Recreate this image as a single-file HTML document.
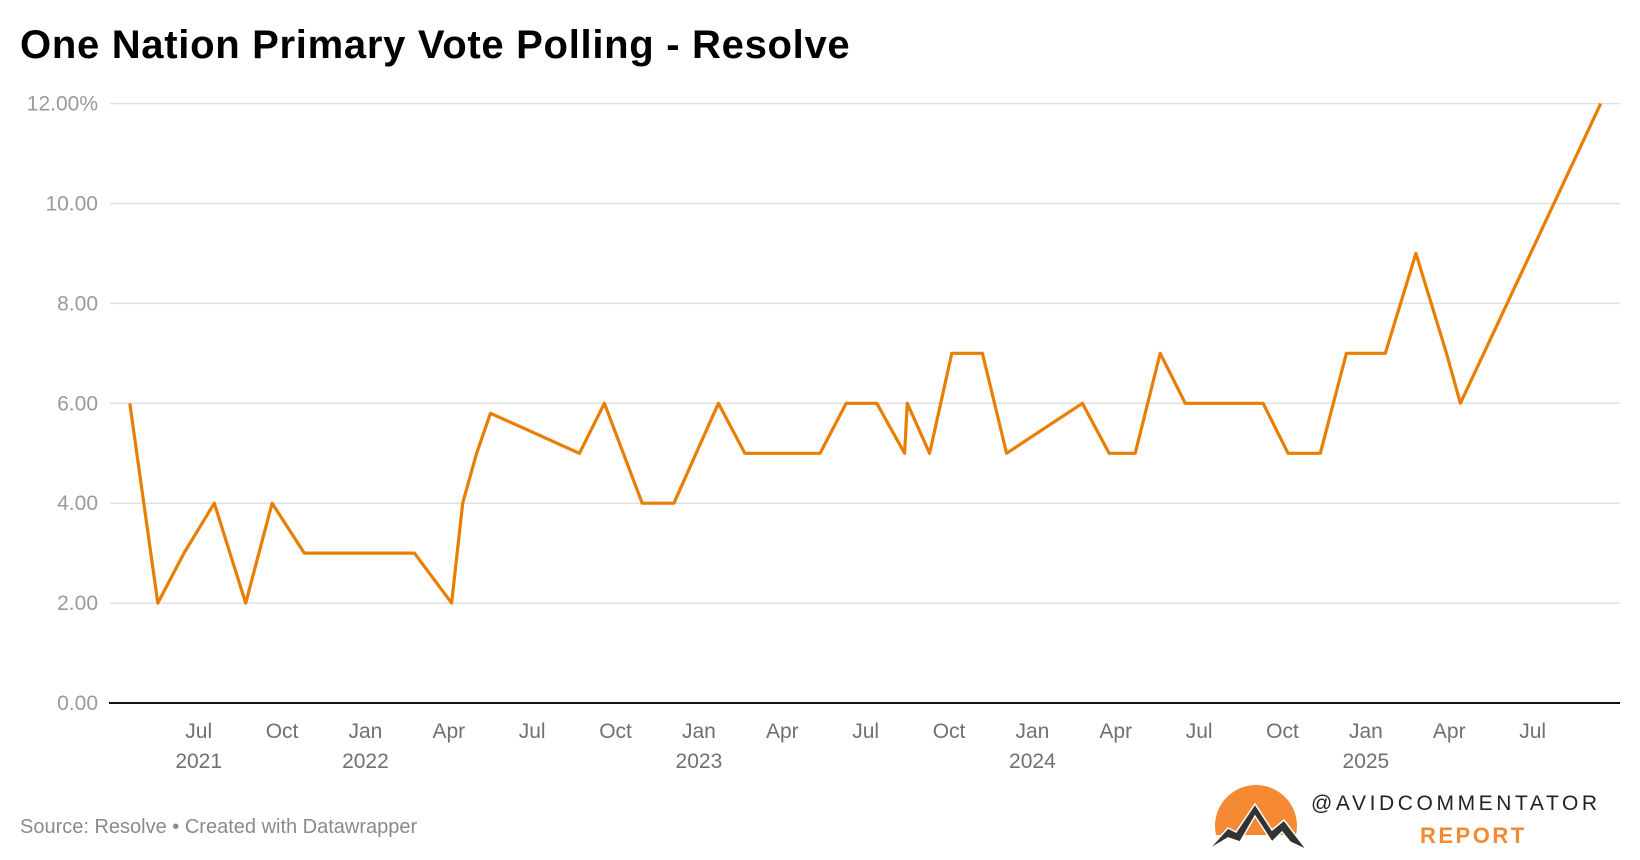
<!DOCTYPE html>
<html><head><meta charset="utf-8"><style>
html,body{margin:0;padding:0;background:#fff;width:1640px;height:860px;overflow:hidden;font-family:"Liberation Sans",sans-serif}
</style></head><body>
<svg width="1640" height="860" xmlns="http://www.w3.org/2000/svg">
<text x="20" y="58" font-size="40" font-weight="bold" letter-spacing="0.7" fill="#000">One Nation Primary Vote Polling - Resolve</text>
<g id="grid"></g><g id="xaxis"></g>
<path id="line" fill="none" stroke="#e87e04" stroke-width="3.2" stroke-linejoin="round"/>
<text x="20" y="833" font-size="20" fill="#8a8a8a">Source: Resolve • Created with Datawrapper</text>
<g>
<path d="M1216,835 A41,41 0 1 1 1296,835 Z" fill="#f58a33"/>
<path d="M1208,850 L1228,828 L1236,832 L1255,804 L1272,830 L1284,820 L1307,850 L1290,842 L1282,832 L1272,842 L1255,816 L1240,842 L1228,838 Z" fill="#333" stroke="#fff" stroke-width="1.5"/>
<text x="1311" y="810" font-size="21" letter-spacing="3.6" fill="#222">@AVIDCOMMENTATOR</text>
<text x="1420" y="843" font-size="22" font-weight="bold" letter-spacing="2.5" fill="#f58a33">REPORT</text>
</g>
</svg>
<script>
// months since Jul 2021
const monthIndex=[-2.48,-1.47,-0.53,0.56,1.69,2.64,3.8,7.76,9.1,9.5,10.0,10.5,13.7,14.6,15.96,17.1,18.7,19.65,22.36,23.3,24.4,25.4,25.5,26.3,27.1,28.2,29.07,31.8,32.76,33.7,34.6,35.5,38.3,39.2,40.36,41.3,42.7,43.8,44.9,45.4,50.45];
const values=[6,2,3,4,2,4,3,3,2,4,5,5.8,5,6,4,4,6,5,5,6,6,5,6,5,7,7,5,6,5,5,7,6,6,5,5,7,7,9,7,6,12];
const yTicks=[0,2,4,6,8,10,12];
const yTickLabels=["0.00","2.00","4.00","6.00","8.00","10.00","12.00%"];
const xTickMonths=[0,3,6,9,12,15,18,21,24,27,30,33,36,39,42,45,48];
const xTickLabels=["Jul","Oct","Jan","Apr","Jul","Oct","Jan","Apr","Jul","Oct","Jan","Apr","Jul","Oct","Jan","Apr","Jul"];
const yearLabels=["2021","","2022","","","","2023","","","","2024","","","","2025","",""];
const NS="http://www.w3.org/2000/svg";
const X=m=>198.7+m*27.79;
const Y=v=>703-v*49.95;
const grid=document.getElementById('grid');
yTicks.forEach((t,i)=>{
  if(t>0){const l=document.createElementNS(NS,'line');
  l.setAttribute('x1',110);l.setAttribute('x2',1620);l.setAttribute('y1',Y(t));l.setAttribute('y2',Y(t));
  l.setAttribute('stroke','#e0e0e0');l.setAttribute('stroke-width','1.5');
  
  
  grid.appendChild(l);}
  const tx=document.createElementNS(NS,'text');
  tx.setAttribute('x',98);tx.setAttribute('y',Y(t)+7);tx.setAttribute('text-anchor','end');
  tx.setAttribute('font-size','21');tx.setAttribute('fill','#9a9a9a');tx.textContent=yTickLabels[i];
  
  
  grid.appendChild(tx);
});
const ax=document.createElementNS(NS,'line');
ax.setAttribute('x1',109);ax.setAttribute('x2',1620);ax.setAttribute('y1',703);ax.setAttribute('y2',703);
ax.setAttribute('stroke','#111');ax.setAttribute('stroke-width','2');


grid.appendChild(ax);
const xa=document.getElementById('xaxis');
xTickMonths.forEach((m,i)=>{
  const t=document.createElementNS(NS,'text');
  t.setAttribute('x',X(m));t.setAttribute('y',738);t.setAttribute('text-anchor','middle');
  t.setAttribute('font-size','21');t.setAttribute('fill','#707070');t.textContent=xTickLabels[i];
  
  
  xa.appendChild(t);
  if(yearLabels[i]){const y=document.createElementNS(NS,'text');
  y.setAttribute('x',X(m));y.setAttribute('y',768);y.setAttribute('text-anchor','middle');
  y.setAttribute('font-size','21');y.setAttribute('fill','#707070');y.textContent=yearLabels[i];
  
  
  xa.appendChild(y);}
});
document.getElementById('line').setAttribute('d',monthIndex.map((m,i)=>(i?'L':'M')+X(m).toFixed(1)+','+Y(values[i]).toFixed(1)).join(' '));
</script>
</body></html>
